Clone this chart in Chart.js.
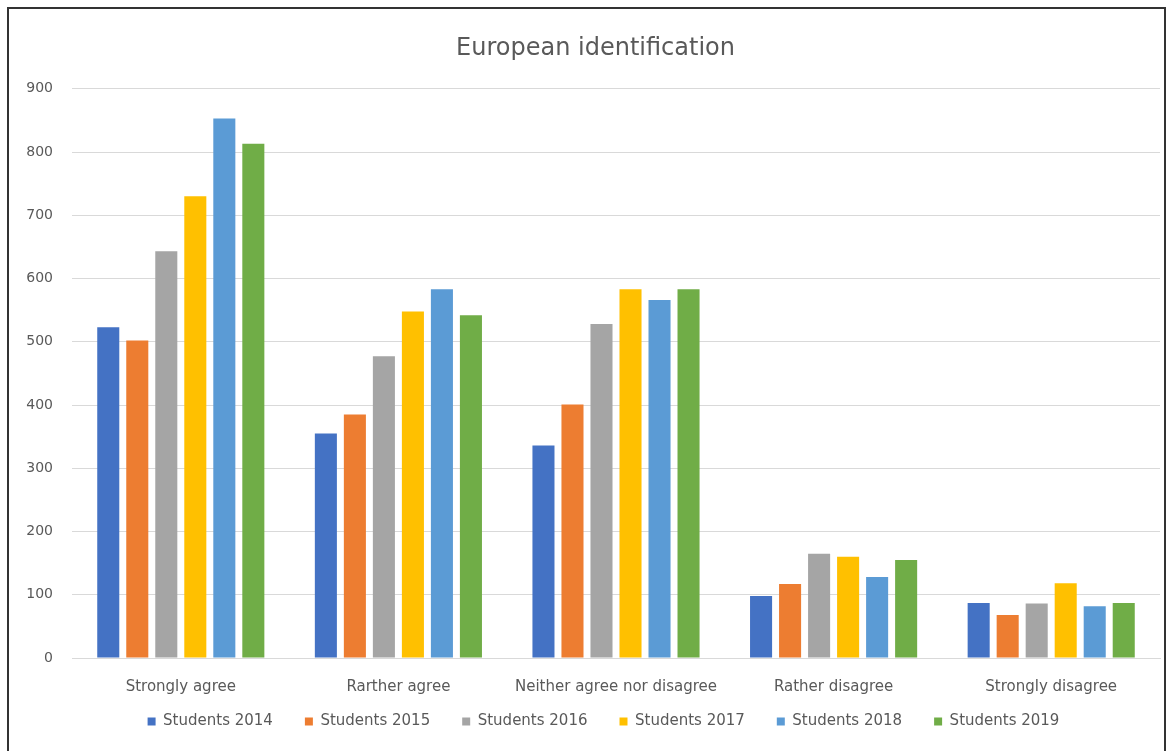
<!DOCTYPE html>
<html>
<head>
<meta charset="utf-8">
<script src="https://cdn.jsdelivr.net/npm/chart.js@4"></script>
<style>
  body { margin: 0; background: #fff; overflow: hidden; }
  .frame {
    position: absolute; left: 7px; top: 7px;
    width: 1159px; height: 780px;
    border: 2px solid #333; box-sizing: border-box; background: #fff;
  }
  canvas { display: block; }
</style>
</head>
<body>
<div class="frame"><canvas id="chart"></canvas></div>
<script>
const categories = ["Strongly agree", "Rarther agree", "Neither agree nor disagree", "Rather disagree", "Strongly disagree"];
const seriesNames = ["Students 2014", "Students 2015", "Students 2016", "Students 2017", "Students 2018", "Students 2019"];
const students2014 = [523, 355, 336, 98, 87];
const students2015 = [502, 385, 401, 117, 68];
const students2016 = [643, 477, 528, 165, 86];
const students2017 = [730, 548, 583, 160, 118];
const students2018 = [853, 583, 566, 128, 82];
const students2019 = [813, 542, 583, 155, 87];
const yTicks = [0, 100, 200, 300, 400, 500, 600, 700, 800, 900];

const colors = ["#4472C4", "#ED7D31", "#A5A5A5", "#FFC000", "#5B9BD5", "#70AD47"];
const values = [students2014, students2015, students2016, students2017, students2018, students2019];
const textColor = "#595959";
const fontFamily = "'DejaVu Sans', sans-serif";

const canvas = document.getElementById("chart");
canvas.width = 1155;
canvas.height = 757;
const ctx = canvas.getContext("2d");

// nudge title and legend so they sit where the original puts them
const nudgeBoxes = {
  id: "nudgeBoxes",
  afterLayout(chart) {
    const t = chart.titleBlock;
    if (t) { t.left += 11; t.right += 11; }
    const l = chart.legend;
    if (l) { l.left += 19; l.right += 19; l.top -= 26; l.bottom -= 26; }
  },
};

new Chart(ctx, {
  type: "bar",
  data: {
    labels: categories,
    datasets: seriesNames.map((name, i) => ({
      label: name,
      data: values[i],
      backgroundColor: colors[i],
      borderWidth: 0,
      barPercentage: 0.76,
      categoryPercentage: 0.8,
    })),
  },
  plugins: [nudgeBoxes],
  options: {
    responsive: false,
    animation: false,
    layout: { padding: { top: 25, right: 4, left: 0, bottom: 1 } },
    scales: {
      y: {
        min: 0,
        max: 900,
        afterBuildTicks: (axis) => { axis.ticks = yTicks.map((v) => ({ value: v })); },
        afterFit: (axis) => { axis.width = 63; },
        grid: { color: "#d9d9d9", drawTicks: false },
        border: { display: false },
        ticks: { color: textColor, font: { family: fontFamily, size: 14 }, padding: 19 },
      },
      x: {
        grid: { display: false },
        border: { color: "#d9d9d9" },
        ticks: { color: textColor, font: { family: fontFamily, size: 15 }, padding: 12 },
      },
    },
    plugins: {
      title: {
        display: true,
        text: "European identification",
        color: textColor,
        font: { family: fontFamily, size: 24, weight: "normal" },
        padding: { top: 0, bottom: 26 },
      },
      legend: {
        position: "bottom",
        labels: {
          color: textColor,
          font: { family: fontFamily, size: 15 },
          boxWidth: 8,
          boxHeight: 8,
          padding: 32,
        },
      },
      tooltip: { enabled: false },
    },
  },
});
</script>
</body>
</html>
